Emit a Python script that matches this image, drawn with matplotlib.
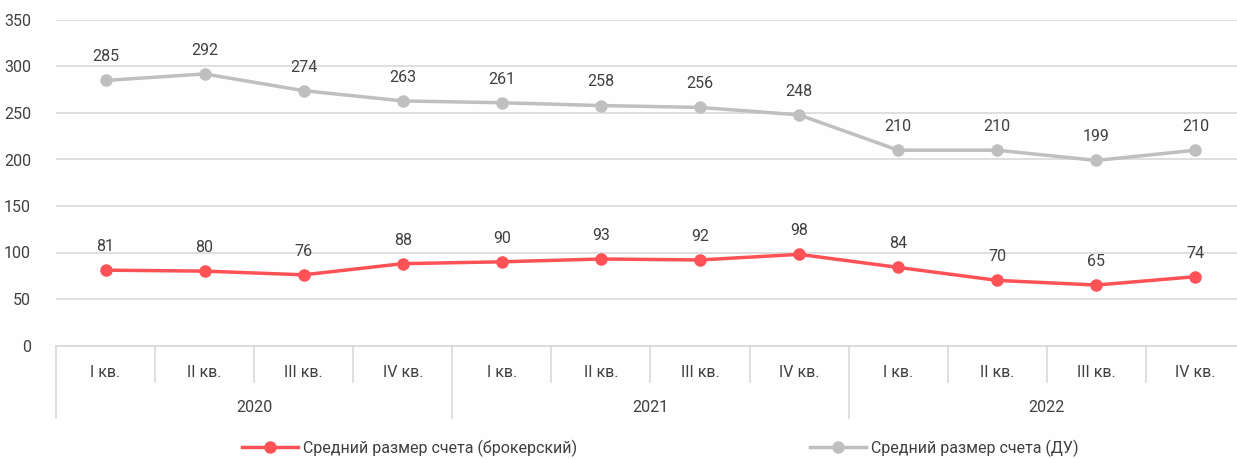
import matplotlib.pyplot as plt
from matplotlib.lines import Line2D
import matplotlib.transforms as mtransforms

plt.rcParams['font.family'] = ['Roboto', 'DejaVu Sans']

quarters = ['I кв.', 'II кв.', 'III кв.', 'IV кв.'] * 3
years = ['2020', '2021', '2022']
broker = [81, 80, 76, 88, 90, 93, 92, 98, 84, 70, 65, 74]
du = [285, 292, 274, 263, 261, 258, 256, 248, 210, 210, 199, 210]
broker_name = 'Средний размер счета (брокерский)'
du_name = 'Средний размер счета (ДУ)'

red = '#FF5257'
gray = '#BFBFBF'
txt = '#404040'
grid = '#D9D9D9'
fs = 11.5

W, H = 1237, 459
fig = plt.figure(figsize=(W / 100, H / 100), dpi=100)
fig.patch.set_facecolor('#FEFEFE')
left, right, top, bottom = 56, 1245, 20, 345.5
ax = fig.add_axes([left / W, (H - bottom) / H, (right - left) / W, (bottom - top) / H])
ax.set_facecolor('none')

x = list(range(len(broker)))
l1, = ax.plot(x, broker, color=red, lw=2.5, marker='o', ms=8, label=broker_name, zorder=3)
l2, = ax.plot(x, du, color=gray, lw=2.5, marker='o', ms=8, label=du_name, zorder=3)

for xi, v in zip(x, broker):
    ax.annotate(str(v), (xi, v), xytext=(0, 17), textcoords='offset points',
                ha='center', va='center', fontsize=fs, color=txt)
for xi, v in zip(x, du):
    ax.annotate(str(v), (xi, v), xytext=(0, 17), textcoords='offset points',
                ha='center', va='center', fontsize=fs, color=txt)

ax.set_xlim(-0.5, 11.5)
ax.set_ylim(0, 350)
ax.set_yticks(range(0, 351, 50))
ax.yaxis.grid(True, color=grid, lw=1.2)
ax.set_axisbelow(True)
ax.tick_params(axis='y', length=0, pad=18, labelsize=fs, labelcolor=txt)
ax.tick_params(axis='x', length=0, labelbottom=False)
for s in ['top', 'right', 'left']:
    ax.spines[s].set_visible(False)
ax.spines['bottom'].set_color(grid)
ax.spines['bottom'].set_linewidth(1.2)

# category axis: quarters and years
trans = mtransforms.blended_transform_factory(ax.transData, ax.transAxes)
for xi, q in zip(x, quarters):
    ax.text(xi, -0.084, q, transform=trans, ha='center', va='center', fontsize=fs, color=txt)
for i, yr in enumerate(years):
    ax.text(i * 4 + 1.5, -0.189, yr, transform=trans, ha='center', va='center', fontsize=fs, color=txt)
for k in range(13):
    xb = k - 0.5
    y_end = -0.223 if k % 4 == 0 else -0.112
    ax.add_line(Line2D([xb, xb], [0, y_end], transform=trans, color=grid, lw=1.2, clip_on=False))

fig.legend(handles=[l1, l2], loc='center left', bbox_to_anchor=(242 / W, 1 - 448 / H),
           ncol=2, frameon=False, fontsize=fs, handlelength=3.5, handletextpad=0.3,
           columnspacing=14.6, labelcolor=txt, borderaxespad=0, borderpad=0)

fig.savefig('out.png', dpi=100, facecolor=fig.get_facecolor())
